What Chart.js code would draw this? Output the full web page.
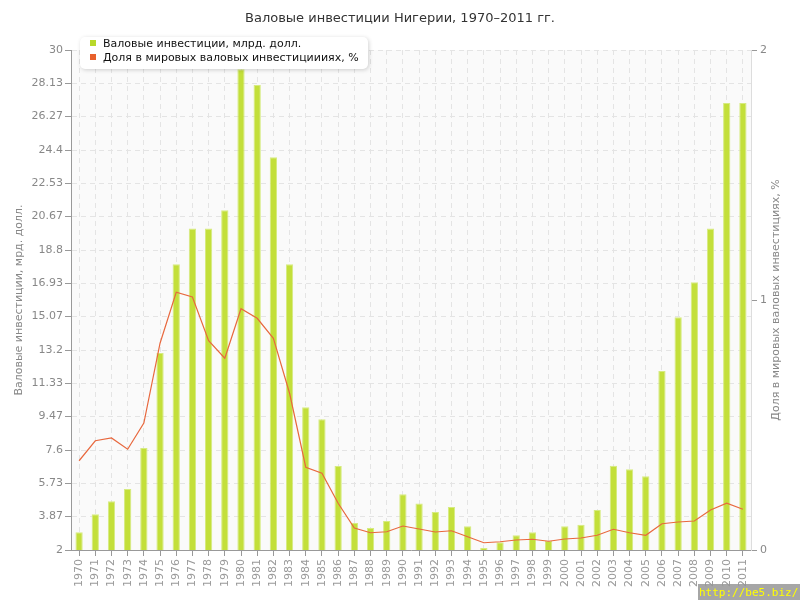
<!DOCTYPE html>
<html>
<head>
<meta charset="utf-8">
<script src="https://cdn.jsdelivr.net/npm/chart.js@4/dist/chart.umd.min.js"></script>
<style>
html,body{margin:0;padding:0;background:#fff;}
#wrap{position:relative;width:800px;height:600px;}
#title{position:absolute;left:0;top:10px;width:800px;text-align:center;font:13px "DejaVu Sans",sans-serif;color:#333;}
#wm{position:absolute;left:698px;top:584px;width:102px;height:16px;background:rgba(150,150,150,0.85);color:#ffff00;font:11px "DejaVu Sans Mono",monospace;line-height:17px;text-align:left;padding-left:1px;box-sizing:border-box;white-space:nowrap;overflow:hidden;}
</style>
</head>
<body>
<div id="wrap">
<canvas id="c" width="800" height="600"></canvas>
<div id="title">Валовые инвестиции Нигерии, 1970–2011 гг.</div>
<div id="wm">http://be5.biz/</div>
</div>
<script>
const years = ["1970","1971","1972","1973","1974","1975","1976","1977","1978","1979","1980","1981","1982","1983","1984","1985","1986","1987","1988","1989","1990","1991","1992","1993","1994","1995","1996","1997","1998","1999","2000","2001","2002","2003","2004","2005","2006","2007","2008","2009","2010","2011"];
const investment = [3.0,4.0,4.73,5.42,7.71,13.03,18.0,20.0,20.0,21.02,28.92,28.04,24.0,18.0,10.0,9.32,6.7,3.51,3.23,3.62,5.12,4.61,4.13,4.41,3.33,2.11,2.43,2.82,3.0,2.52,3.33,3.42,4.24,6.72,6.52,6.13,12.02,15.03,17.0,20.0,27.03,27.03];
const worldShare = [0.357,0.437,0.448,0.403,0.508,0.827,1.031,1.012,0.837,0.767,0.965,0.927,0.847,0.627,0.331,0.307,0.187,0.088,0.069,0.073,0.096,0.084,0.072,0.077,0.053,0.029,0.033,0.040,0.043,0.035,0.044,0.048,0.059,0.083,0.069,0.059,0.105,0.112,0.116,0.160,0.187,0.163];
const leftTicks = [2,3.87,5.73,7.6,9.47,11.33,13.2,15.07,16.93,18.8,20.67,22.53,24.4,26.27,28.13,30];
const rightTicks = [0,1,2];
const seriesNames = ["Валовые инвестиции, млрд. долл.","Доля в мировых валовых инвестициииях, %"];
const axisTitles = ["Валовые инвестиции, мрд. долл.","Доля в мировых валовых инвестициях, %"];

const FONT = '"DejaVu Sans", sans-serif';
const gridColor = '#e4e4e4';

const bgPlugin = {
  id:'bg',
  beforeDraw(chart){
    const a = chart.chartArea, ctx = chart.ctx;
    ctx.save();
    ctx.fillStyle = '#fafafa';
    ctx.fillRect(a.left, a.top, a.right-a.left, a.bottom-a.top);
    ctx.restore();
  }
};
const overlayPlugin = {
  id:'overlay',
  afterDraw(chart){
    const ctx = chart.ctx;
    const a = chart.chartArea;
    const cy = (a.top + a.bottom)/2;
    [[19, axisTitles[0]], [776, axisTitles[1]]].forEach(([tx, txt]) => {
      ctx.save();
      ctx.font = '11px ' + FONT;
      ctx.fillStyle = '#888';
      ctx.textAlign = 'center';
      ctx.textBaseline = 'middle';
      ctx.translate(tx, cy); ctx.rotate(-Math.PI/2); ctx.fillText(txt, 0, 0);
      ctx.restore();
    });
    // legend
    const x = 80, y = 37, w = 288, h = 32;
    ctx.save();
    ctx.shadowColor = 'rgba(0,0,0,0.18)';
    ctx.shadowBlur = 4;
    ctx.shadowOffsetX = 1; ctx.shadowOffsetY = 1;
    ctx.fillStyle = '#ffffff';
    ctx.beginPath();
    ctx.roundRect(x, y, w, h, 5);
    ctx.fill();
    ctx.restore();
    ctx.save();
    ctx.font = '11px ' + FONT;
    ctx.textBaseline = 'middle';
    const cols = ['#b8d82a','#e8602c'];
    for (let i=0;i<2;i++){
      const yy = y + 6 + i*14;
      ctx.fillStyle = cols[i];
      ctx.fillRect(x+10, yy-3, 6, 6);
      ctx.fillStyle = '#111';
      ctx.fillText(seriesNames[i], x+23, yy+1);
    }
    ctx.restore();
  }
};

new Chart(document.getElementById('c'), {
  type:'bar',
  data:{
    labels: years,
    datasets:[
      {
        type:'line',
        label: seriesNames[1],
        data: worldShare,
        yAxisID:'y1',
        borderColor:'#e8683e',
        borderWidth:1.2,
        pointRadius:0,
        tension:0,
        order:0
      },
      {
        label: seriesNames[0],
        data: investment,
        yAxisID:'y',
        backgroundColor:'#c3df3a',
        borderColor:'#d6eb80',
        borderWidth:1,
        barPercentage:0.9,
        categoryPercentage:0.5,
        order:1
      }
    ]
  },
  options:{
    responsive:false,
    animation:false,
    layout:{padding:{top:50,left:0,right:0,bottom:0}},
    plugins:{legend:{display:false},title:{display:false},tooltip:{enabled:false}},
    scales:{
      x:{
        z:1,
        offset:true,
        grid:{offset:false,color:gridColor,lineWidth:1,tickLength:6,tickColor:'#999',drawTicks:true},
        border:{color:'#999',width:1,dash:[5,4]},
        ticks:{color:'#999',font:{family:FONT,size:11},maxRotation:90,minRotation:90,autoSkip:false,padding:3},
        afterFit(s){ s.height = 50; }
      },
      y:{
        position:'left',
        min:2,max:30,
        z:1,
        afterBuildTicks(s){ s.ticks = leftTicks.map(v=>({value:v})); },
        grid:{color:gridColor,tickLength:6,tickColor:'#999'},
        border:{color:'#999',width:1,dash:[5,4]},
        ticks:{color:'#888',font:{family:FONT,size:11},padding:2,callback:(v)=>String(v)},
        afterFit(s){ s.width = 71; }
      },
      y1:{
        position:'right',
        min:0,max:2,
        afterBuildTicks(s){ s.ticks = rightTicks.map(v=>({value:v})); },
        grid:{drawOnChartArea:false,tickLength:6,tickColor:'#999'},
        border:{color:'#ddd',width:1},
        ticks:{color:'#888',font:{family:FONT,size:11},padding:3},
        afterFit(s){ s.width = 49; }
      }
    }
  },
  plugins:[bgPlugin, overlayPlugin]
});
</script>
</body>
</html>
